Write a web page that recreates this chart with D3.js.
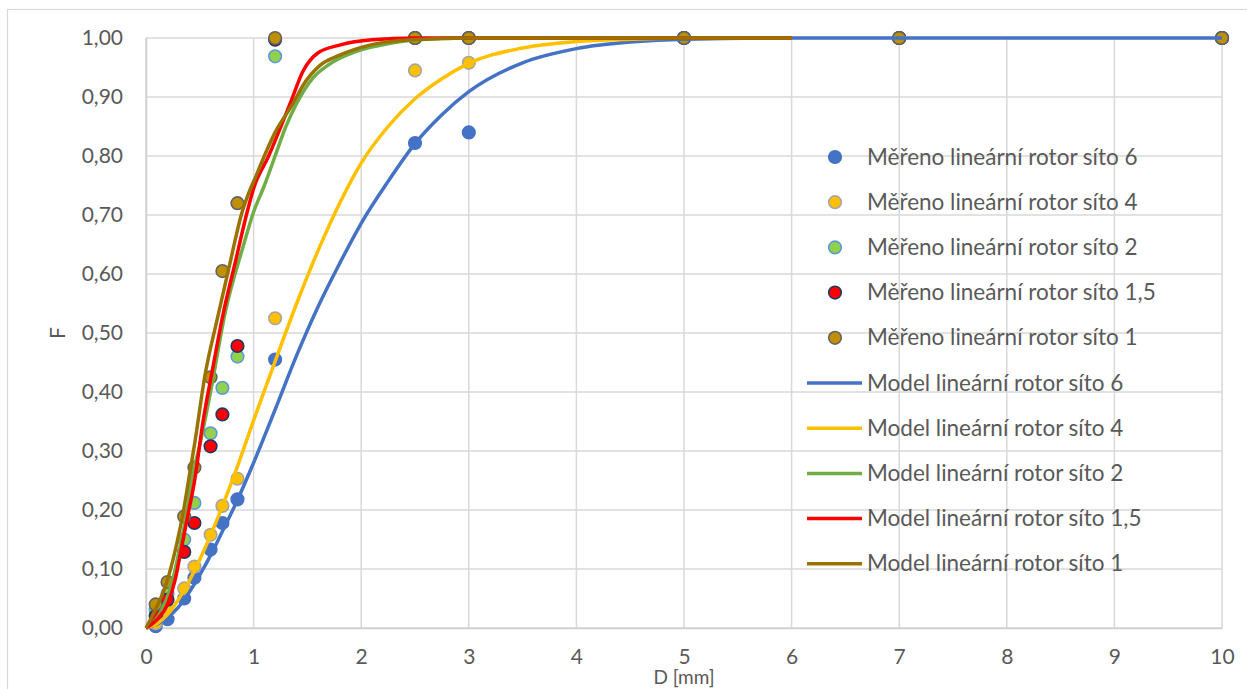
<!DOCTYPE html>
<html lang="cs">
<head>
<meta charset="utf-8">
<title>Model vs měřeno</title>
<script src="https://d3js.org/d3.v7.min.js"></script>
<style>
  body { margin: 0; background: #fff; }
  text { font-family: Lato, "Open Sans", sans-serif; fill: #595959; }
</style>
</head>
<body>
<div id="chart"></div>
<script>
// sieve sizes of the measured points [mm]
const sieveD = [0.09, 0.2, 0.355, 0.45, 0.6, 0.71, 0.85, 1.2, 2.5, 3, 5, 7, 10];

// measured F values (one array per series)
const measured6  = [0.003, 0.015, 0.05, 0.085, 0.133, 0.178, 0.218, 0.455, 0.822, 0.84, 1, 1, 1];
const measured4  = [0.008, 0.03, 0.067, 0.104, 0.158, 0.207, 0.253, 0.525, 0.945, 0.958, 1, 1, 1];
const measured2  = [0.03, 0.058, 0.15, 0.212, 0.33, 0.407, 0.46, 0.969, 1, 1, 1, 1, 1];
const measured15 = [0.02, 0.048, 0.129, 0.178, 0.308, 0.362, 0.478, 0.997, 1, 1, 1, 1, 1];
const measured1  = [0.04, 0.078, 0.189, 0.272, 0.425, 0.605, 0.72, 1, 1, 1, 1, 1, 1];

// model curves
const model6D = [0, 0.1, 0.2, 0.3, 0.4, 0.5, 0.6, 0.7, 0.85, 1.0, 1.2, 1.4, 1.6, 1.8, 2.0, 2.25, 2.5, 2.75, 3.0, 3.5, 4.0, 4.5, 5.0, 6.0, 10];
const model6F = [0, 0.006, 0.018, 0.035, 0.06, 0.09, 0.123, 0.16, 0.217, 0.28, 0.37, 0.462, 0.545, 0.618, 0.686, 0.757, 0.821, 0.87, 0.909, 0.958, 0.982, 0.993, 0.998, 1, 1];

const model4D = [0, 0.1, 0.2, 0.3, 0.4, 0.5, 0.6, 0.7, 0.85, 1.0, 1.2, 1.4, 1.6, 1.8, 2.0, 2.25, 2.5, 2.75, 3.0, 3.5, 4.0, 4.5, 5.0, 6.0];
const model4F = [0, 0.007, 0.023, 0.048, 0.079, 0.116, 0.157, 0.202, 0.274, 0.352, 0.452, 0.55, 0.64, 0.72, 0.788, 0.85, 0.897, 0.931, 0.957, 0.983, 0.994, 0.998, 1, 1];

const model2D = [0, 0.13, 0.24, 0.316, 0.378, 0.424, 0.5, 0.6, 0.734, 0.9, 1.0, 1.1, 1.2, 1.3, 1.4, 1.55, 1.7, 1.95, 2.27, 2.52, 3.0, 6.0];
const model2F = [0, 0.025, 0.076, 0.138, 0.194, 0.251, 0.31, 0.4, 0.533, 0.645, 0.705, 0.75, 0.8, 0.85, 0.889, 0.932, 0.955, 0.977, 0.991, 0.997, 1, 1];

const model15D = [0, 0.1, 0.2, 0.27, 0.33, 0.39, 0.45, 0.53, 0.62, 0.72, 0.83, 0.94, 1.0, 1.14, 1.34, 1.46, 1.6, 1.8, 2.1, 2.5, 6.0];
const model15F = [0, 0.014, 0.04, 0.081, 0.136, 0.192, 0.248, 0.35, 0.44, 0.535, 0.62, 0.705, 0.745, 0.8, 0.889, 0.944, 0.975, 0.988, 0.997, 1, 1];

const model1D = [0, 0.07, 0.19, 0.28, 0.35, 0.4, 0.45, 0.55, 0.66, 0.78, 0.89, 0.95, 1.02, 1.1, 1.2, 1.37, 1.46, 1.62, 1.8, 2.08, 2.48, 3.0, 6.0];
const model1F = [0, 0.025, 0.076, 0.138, 0.2, 0.255, 0.31, 0.43, 0.522, 0.618, 0.703, 0.735, 0.765, 0.8, 0.84, 0.89, 0.92, 0.954, 0.971, 0.988, 0.997, 1, 1];

const xTicks = [0, 1, 2, 3, 4, 5, 6, 7, 8, 9, 10];
const yTicks = [0, 0.1, 0.2, 0.3, 0.4, 0.5, 0.6, 0.7, 0.8, 0.9, 1.0];

const measuredNames = ["Měřeno lineární rotor síto 6", "Měřeno lineární rotor síto 4", "Měřeno lineární rotor síto 2",
                       "Měřeno lineární rotor síto 1,5", "Měřeno lineární rotor síto 1"];
const modelNames = ["Model lineární rotor síto 6", "Model lineární rotor síto 4", "Model lineární rotor síto 2",
                    "Model lineární rotor síto 1,5", "Model lineární rotor síto 1"];

const W = 1247, H = 689;
const plotL = 146, plotR = 1222, plotT = 38, plotB = 628;

const svg = d3.select("#chart").append("svg")
  .attr("width", W).attr("height", H);

// chart area frame
svg.append("rect")
  .attr("x", 7.5).attr("y", 9.5).attr("width", 1400).attr("height", 800)
  .attr("fill", "#fff").attr("stroke", "#d9d9d9").attr("stroke-width", 1.2);

const x = d3.scaleLinear().domain([0, 10]).range([plotL, plotR]);
const y = d3.scaleLinear().domain([0, 1]).range([plotB, plotT]);

const cz = d3.formatLocale({ decimal: ",", thousands: " ", grouping: [3], currency: ["", ""] });
const fmtY = cz.format(".2f");

// grid
const grid = svg.append("g");
grid.selectAll(".hg").data(yTicks).enter().append("line")
  .attr("x1", plotL).attr("x2", plotR)
  .attr("y1", d => y(d)).attr("y2", d => y(d))
  .attr("stroke", "#d9d9d9").attr("stroke-width", 1.5);
grid.selectAll(".vg").data(xTicks).enter().append("line")
  .attr("x1", d => x(d)).attr("x2", d => x(d))
  .attr("y1", plotT).attr("y2", plotB)
  .attr("stroke", "#d9d9d9").attr("stroke-width", 1.5);

// axes (labels only, lines come from the grid)
const xAxis = svg.append("g")
  .attr("transform", `translate(0,${plotB})`)
  .call(d3.axisBottom(x).tickValues(xTicks).tickSize(0).tickPadding(21).tickFormat(d3.format("d")));
xAxis.select(".domain").attr("stroke", "#cfcfcf").attr("stroke-width", 1.5);
xAxis.selectAll("text").style("font-size", "21px").attr("fill", "#595959");

const yAxis = svg.append("g")
  .attr("transform", `translate(${plotL},0)`)
  .call(d3.axisLeft(y).tickValues(yTicks).tickSize(0).tickPadding(23).tickFormat(fmtY));
yAxis.select(".domain").attr("stroke", "#cfcfcf").attr("stroke-width", 1.5);
yAxis.selectAll("text").style("font-size", "21px").attr("fill", "#595959");

svg.append("text")
  .attr("x", 684).attr("y", 684).attr("text-anchor", "middle")
  .style("font-size", "19px").text("D [mm]");
svg.append("text")
  .attr("transform", "translate(65,333) rotate(-90)").attr("text-anchor", "middle")
  .style("font-size", "21px").text("F");

// styles
const markerStyles = [
  { fill: "#4472c4", stroke: "#4472c4" },
  { fill: "#ffc000", stroke: "#a5a5a5" },
  { fill: "#92d050", stroke: "#5b9bd5" },
  { fill: "#ff0000", stroke: "#203864" },
  { fill: "#bf9000", stroke: "#636363" }
];
const lineColors = ["#4472c4", "#ffc000", "#70ad47", "#ff0000", "#997300"];

const measured = [measured6, measured4, measured2, measured15, measured1];
const models = [[model6D, model6F], [model4D, model4F], [model2D, model2F], [model15D, model15F], [model1D, model1F]];

// measured points
measured.forEach((vals, i) => {
  svg.append("g").selectAll("circle")
    .data(vals.map((v, j) => ({ d: sieveD[j], f: v })))
    .enter().append("circle")
    .attr("cx", p => x(p.d)).attr("cy", p => y(p.f))
    .attr("r", 6.3)
    .attr("fill", markerStyles[i].fill)
    .attr("stroke", markerStyles[i].stroke)
    .attr("stroke-width", 1.6);
});

// model lines
const line = d3.line().x(p => x(p[0])).y(p => y(p[1])).curve(d3.curveMonotoneX);
models.forEach((m, i) => {
  const pts = m[0].map((d, j) => [d, m[1][j]]);
  svg.append("path").datum(pts)
    .attr("fill", "none")
    .attr("stroke", lineColors[i])
    .attr("stroke-width", 3.5)
    .attr("stroke-linejoin", "round")
    .attr("d", line);
});

// legend
const legX = 835, legY = 157, legStep = 45.2;
const leg = svg.append("g");
measuredNames.forEach((name, i) => {
  const yy = legY + i * legStep;
  leg.append("circle").attr("cx", legX).attr("cy", yy).attr("r", 6.3)
    .attr("fill", markerStyles[i].fill).attr("stroke", markerStyles[i].stroke).attr("stroke-width", 1.6);
  leg.append("text").attr("x", 867).attr("y", yy + 7.5).style("font-size", "22.5px").text(name);
});
modelNames.forEach((name, i) => {
  const yy = legY + (i + 5) * legStep;
  leg.append("line").attr("x1", 807).attr("x2", 862).attr("y1", yy).attr("y2", yy)
    .attr("stroke", lineColors[i]).attr("stroke-width", 3.5);
  leg.append("text").attr("x", 867).attr("y", yy + 7.5).style("font-size", "22.5px").text(name);
});
</script>
</body>
</html>
